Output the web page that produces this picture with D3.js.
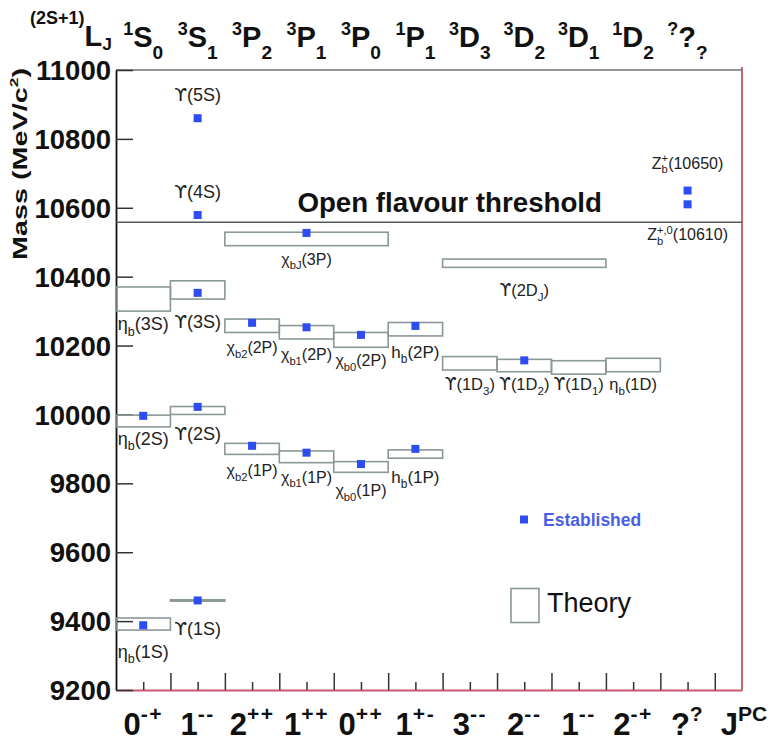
<!DOCTYPE html>
<html>
<head>
<meta charset="utf-8">
<script src="https://cdn.jsdelivr.net/npm/d3@7"></script>
<style>
  body { margin: 0; background: #fff; }
  svg { display: block; font-family: "Liberation Sans", Arial, Helvetica, sans-serif; }
</style>
</head>
<body>
<svg id="chart" width="771" height="742"></svg>
<script>
// ---- J^PC columns (bottom axis) ----
const jpcMain = ["0", "1", "2", "1", "0", "1", "3", "2", "1", "2", "?"];
const jpcSup  = ["-+", "--", "++", "++", "++", "+-", "--", "--", "--", "-+", "?"];

// ---- spectroscopic notation per column (top row) ----
const waveSup = ["1", "3", "3", "3", "3", "1", "3", "3", "3", "1", "?"];
const waveL   = ["S", "S", "P", "P", "P", "P", "D", "D", "D", "D", "?"];
const waveSub = ["0", "1", "2", "1", "0", "1", "3", "2", "1", "2", "?"];

// ---- mass axis ticks (MeV) ----
const massTicks = [9200, 9400, 9600, 9800, 10000, 10200, 10400, 10600, 10800, 11000];

// ---- theory predictions: first column, columns spanned, mass range (MeV) ----
const theoryNames = ["ηb(1S)", "ηb(2S)", "ηb(3S)", "Υ(1S)", "Υ(2S)", "Υ(3S)",
                     "χb2(1P)", "χb2(2P)", "χbJ(3P)", "χb1(1P)", "χb1(2P)",
                     "χb0(1P)", "χb0(2P)", "hb(1P)", "hb(2P)",
                     "Υ(1D3)", "Υ(2DJ)", "Υ(1D2)", "Υ(1D1)", "ηb(1D)"];
const theoryCol  = [0, 0, 0, 1, 1, 1, 2, 2, 2, 3, 3, 4, 4, 5, 5, 6, 6, 7, 8, 9];
const theorySpan = [1, 1, 1, 1, 1, 1, 1, 1, 3, 1, 1, 1, 1, 1, 1, 1, 3, 1, 1, 1];
const theoryLo = [9374, 9964, 10300, 9458, 10000, 10335, 9884, 10238, 10490, 9860, 10219,
                  9832, 10195, 9873, 10228, 10129, 10427, 10124, 10117, 10124];
const theoryHi = [9409, 9998, 10370, 9462, 10023, 10388, 9916, 10277, 10529, 9894, 10258,
                  9863, 10238, 9897, 10267, 10168, 10451, 10160, 10156, 10163];

// ---- established states: column centre and measured mass (MeV) ----
const obsNames = ["ηb(1S)", "ηb(2S)", "Υ(1S)", "Υ(2S)", "Υ(3S)", "Υ(4S)", "Υ(5S)",
                  "χb2(1P)", "χb2(2P)", "χb1(1P)", "χb1(2P)", "χbJ(3P)",
                  "χb0(1P)", "χb0(2P)", "hb(1P)", "hb(2P)", "Υ(1D2)",
                  "Zb(10650)", "Zb(10610)"];
const obsCol  = [0.5, 0.5, 1.5, 1.5, 1.5, 1.5, 1.5, 2.5, 2.5, 3.5, 3.5, 3.5,
                 4.5, 4.5, 5.5, 5.5, 7.5, 10.5, 10.5];
const obsMass = [9388, 9996, 9460, 10022, 10353, 10579, 10860, 9909, 10266, 9889, 10253, 10527,
                 9856, 10231, 9900, 10257, 10157, 10650, 10610];

// open-bottom (B Bbar) threshold, MeV
const threshold = 10558;

// ---- state labels: text markup, anchor state, vertical offset (px), font size ----
const labelLayout = [
  { text: "η_{b}(1S)",   from: "theory", ref: "ηb(1S)",  dy: 28, fs: 18 },
  { text: "η_{b}(2S)",   from: "theory", ref: "ηb(2S)",  dy: 18, fs: 18 },
  { text: "η_{b}(3S)",   from: "theory", ref: "ηb(3S)",  dy: 19, fs: 18 },
  { text: "ϒ(1S)",       from: "theory", ref: "Υ(1S)",   dy: 34, fs: 18 },
  { text: "ϒ(2S)",       from: "theory", ref: "Υ(2S)",   dy: 26, fs: 18 },
  { text: "ϒ(3S)",       from: "theory", ref: "Υ(3S)",   dy: 29, fs: 18 },
  { text: "ϒ(4S)",       from: "obs",    ref: "Υ(4S)",   dy: -17, fs: 18 },
  { text: "ϒ(5S)",       from: "obs",    ref: "Υ(5S)",   dy: -17, fs: 18 },
  { text: "χ_{b2}(1P)",  from: "theory", ref: "χb2(1P)", dy: 22, fs: 16 },
  { text: "χ_{b1}(1P)",  from: "theory", ref: "χb1(1P)", dy: 20, fs: 16 },
  { text: "χ_{b0}(1P)",  from: "theory", ref: "χb0(1P)", dy: 24, fs: 16 },
  { text: "h_{b}(1P)",   from: "theory", ref: "hb(1P)",  dy: 25, fs: 17 },
  { text: "χ_{b2}(2P)",  from: "theory", ref: "χb2(2P)", dy: 21, fs: 16 },
  { text: "χ_{b1}(2P)",  from: "theory", ref: "χb1(2P)", dy: 21, fs: 16 },
  { text: "χ_{b0}(2P)",  from: "theory", ref: "χb0(2P)", dy: 19, fs: 16 },
  { text: "h_{b}(2P)",   from: "theory", ref: "hb(2P)",  dy: 22, fs: 17 },
  { text: "χ_{bJ}(3P)",  from: "theory", ref: "χbJ(3P)", dy: 19, fs: 16 },
  { text: "ϒ(2D_{J})",   from: "theory", ref: "Υ(2DJ)",  dy: 29, fs: 16.5 },
  { text: "ϒ(1D_{3})",   from: "theory", ref: "Υ(1D3)",  dy: 20, fs: 16.5 },
  { text: "ϒ(1D_{2})",   from: "theory", ref: "Υ(1D2)",  dy: 18, fs: 16.5 },
  { text: "ϒ(1D_{1})",   from: "theory", ref: "Υ(1D1)",  dy: 16, fs: 16.5 },
  { text: "η_{b}(1D)",   from: "theory", ref: "ηb(1D)",  dy: 18, fs: 16.5 },
  { text: "Z_{b}^{+}(10650)",   from: "obs", ref: "Zb(10650)", dy: -22, fs: 16 },
  { text: "Z_{b}^{+,0}(10610)", from: "obs", ref: "Zb(10610)", dy: 36, fs: 16 }
];

// ---- colours ----
const pointColor = "#2d4cf2";
const boxColor = "#8a9898";

const svg = d3.select("#chart");

const x = d3.scaleLinear().domain([0, 11.5]).range([116, 742]);
const y = d3.scaleLinear().domain([9200, 11000]).range([690, 70]);

// rich text: supports _{sub} and ^{sup}; a sup right after a sub is stacked over it.
// The upsilon symbol is taken from DejaVu Sans, which draws it with curled arms.
function richText(textSel, markup, fs, opt) {
  const o = Object.assign({ subScale: 0.7, supScale: 0.7, subShift: 0.3, supShift: 0.4, supSpacing: 0 }, opt || {});
  const re = /_\{([^}]*)\}|\^\{([^}]*)\}|([^_^]+)/g;
  let m, shift = 0, prevSub = null;
  while ((m = re.exec(markup)) !== null) {
    if (m[1] !== undefined) {
      const d = fs * o.subShift;
      prevSub = textSel.append("tspan").attr("font-size", fs * o.subScale)
        .attr("dy", d - shift).text(m[1]);
      shift = d;
    } else if (m[2] !== undefined) {
      const d = -fs * o.supShift;
      const t = textSel.append("tspan").attr("font-size", fs * o.supScale).attr("dy", d - shift);
      if (o.supSpacing) t.attr("letter-spacing", o.supSpacing);
      if (prevSub) t.attr("dx", -prevSub.node().getComputedTextLength());
      t.text(m[2]);
      shift = d; prevSub = null;
    } else {
      const pieces = m[3].split(/(ϒ)/).filter(s => s.length);
      pieces.forEach((p, k) => {
        const t = textSel.append("tspan").attr("font-size", fs).attr("dy", k === 0 ? -shift : 0).text(p);
        if (p === "ϒ") t.attr("font-family", "'DejaVu Sans', sans-serif").attr("font-size", fs * 1.02);
      });
      shift = 0; prevSub = null;
    }
  }
}

// ---- frame ----
svg.append("line")
  .attr("x1", x(0)).attr("x2", x(11.5)).attr("y1", y(11000)).attr("y2", y(11000))
  .attr("stroke", "#6d7272").attr("stroke-width", 1.6);
svg.append("line")
  .attr("x1", x(11.5)).attr("x2", x(11.5)).attr("y1", y(11000) - 3).attr("y2", y(9200))
  .attr("stroke", "#b8404f").attr("stroke-width", 1.6);

// ---- bottom axis: major ticks at column edges, minor at column centres ----
const majorX = d3.range(1, 12);
const minorX = d3.range(0.5, 11, 1);
const gx = svg.append("g").attr("transform", `translate(0,${y(9200)})`);
gx.call(d3.axisBottom(x).tickValues(majorX).tickSize(-17).tickSizeOuter(0).tickFormat(""));
gx.append("g").call(d3.axisBottom(x).tickValues(minorX).tickSize(-8).tickSizeOuter(0).tickFormat(""))
  .select(".domain").remove();
gx.selectAll(".tick line").attr("stroke", "#333").attr("stroke-width", 1.5);
gx.select(".domain").attr("stroke", "#c85a6c").attr("stroke-width", 1.8);

// ---- left axis ----
const gy = svg.append("g").attr("transform", `translate(${x(0)},0)`);
gy.call(d3.axisLeft(y).tickValues(massTicks).tickSize(-17).tickSizeOuter(0).tickPadding(5)
  .tickFormat(d3.format("d")));
gy.select(".domain").attr("stroke", "#111").attr("stroke-width", 1.8);
gy.selectAll(".tick line").attr("stroke", "#333").attr("stroke-width", 1.5);
gy.selectAll(".tick text")
  .attr("dy", "0.35em")
  .attr("font-family", "'Liberation Sans', Arial, sans-serif")
  .attr("font-size", 27.5).attr("font-weight", "bold").attr("fill", "#111");

// axis title
const yTitle = svg.append("text")
  .attr("transform", "translate(27,260) rotate(-90)")
  .attr("font-size", 19.5).attr("font-weight", "bold").attr("fill", "#111")
  .attr("textLength", 192).attr("lengthAdjust", "spacingAndGlyphs");
richText(yTitle, "Mass (MeV/c^{2})", 19.5, { supScale: 0.6, supShift: 0.45 });

// ---- open flavour threshold ----
svg.append("line")
  .attr("x1", x(0)).attr("x2", x(11.5)).attr("y1", y(threshold)).attr("y2", y(threshold))
  .attr("stroke", "#555a5a").attr("stroke-width", 1.6);
svg.append("text")
  .attr("x", x(6.13)).attr("y", y(threshold) - 10)
  .attr("text-anchor", "middle").attr("font-size", 27.7).attr("font-weight", "bold")
  .attr("fill", "#111").text("Open flavour threshold");

// ---- theory boxes ----
svg.append("g").selectAll("rect")
  .data(theoryNames.map((n, i) => i))
  .join("rect")
  .attr("x", i => x(theoryCol[i]))
  .attr("width", i => x(theoryCol[i] + theorySpan[i]) - x(theoryCol[i]))
  .attr("y", i => y(theoryHi[i]))
  .attr("height", i => y(theoryLo[i]) - y(theoryHi[i]))
  .attr("fill", "none").attr("stroke", boxColor).attr("stroke-width", 1.6);

// ---- established states ----
const ps = 8;
svg.append("g").selectAll("rect")
  .data(obsNames.map((n, i) => i))
  .join("rect")
  .attr("x", i => x(obsCol[i]) - ps / 2)
  .attr("y", i => y(obsMass[i]) - ps / 2)
  .attr("width", ps).attr("height", ps)
  .attr("fill", pointColor);

// ---- state labels ----
const gl = svg.append("g").attr("fill", "#222");
labelLayout.forEach(l => {
  let cx, m;
  if (l.from === "theory") {
    const i = theoryNames.indexOf(l.ref);
    cx = theoryCol[i] + theorySpan[i] / 2;
    m = theoryLo[i];
  } else {
    const i = obsNames.indexOf(l.ref);
    cx = obsCol[i];
    m = obsMass[i];
  }
  const t = gl.append("text")
    .attr("x", x(cx)).attr("y", y(m) + l.dy)
    .attr("text-anchor", "middle").attr("font-size", l.fs);
  richText(t, l.text, l.fs);
});

// ---- top row: spectroscopic notation ----
const topRow = svg.append("g").attr("font-weight", "bold").attr("fill", "#111");
const head = topRow.append("text").attr("x", 30).attr("y", 46);
richText(head, "^{(2S+1)}L_{J}", 29, { supScale: 0.62, supShift: 0.76, subScale: 0.6, subShift: 0.15 });
waveL.forEach((L, i) => {
  const t = topRow.append("text").attr("x", x(i + 0.5)).attr("y", 47).attr("text-anchor", "middle");
  richText(t, `^{${waveSup[i]}}${L}_{${waveSub[i]}}`, 29,
    { supScale: 0.62, supShift: 0.42, subScale: 0.66, subShift: 0.4 });
});

// ---- bottom row: J^PC ----
const botRow = svg.append("g").attr("font-weight", "bold").attr("fill", "#111");
jpcMain.forEach((J, i) => {
  const t = botRow.append("text").attr("x", x(i + 0.5)).attr("y", 735).attr("text-anchor", "middle");
  richText(t, `${J}^{${jpcSup[i]}}`, 31, { supScale: 0.68, supShift: 0.45, supSpacing: 1.5 });
});
const jpcTitle = botRow.append("text").attr("x", x(11.5) + 2).attr("y", 735).attr("text-anchor", "middle");
richText(jpcTitle, "J^{PC}", 31, { supScale: 0.68, supShift: 0.45 });

// ---- legend ----
const lg = svg.append("g");
lg.append("rect").attr("x", 520).attr("y", 515.5).attr("width", ps).attr("height", ps).attr("fill", pointColor);
lg.append("text").attr("x", 543).attr("y", 525.5)
  .attr("font-size", 17.5).attr("font-weight", "bold").attr("fill", "#4a5fe6").text("Established");
lg.append("rect").attr("x", 511).attr("y", 588.5).attr("width", 28).attr("height", 34)
  .attr("fill", "none").attr("stroke", boxColor).attr("stroke-width", 1.6);
lg.append("text").attr("x", 547).attr("y", 612)
  .attr("font-size", 27).attr("fill", "#111").text("Theory");
</script>
</body>
</html>
